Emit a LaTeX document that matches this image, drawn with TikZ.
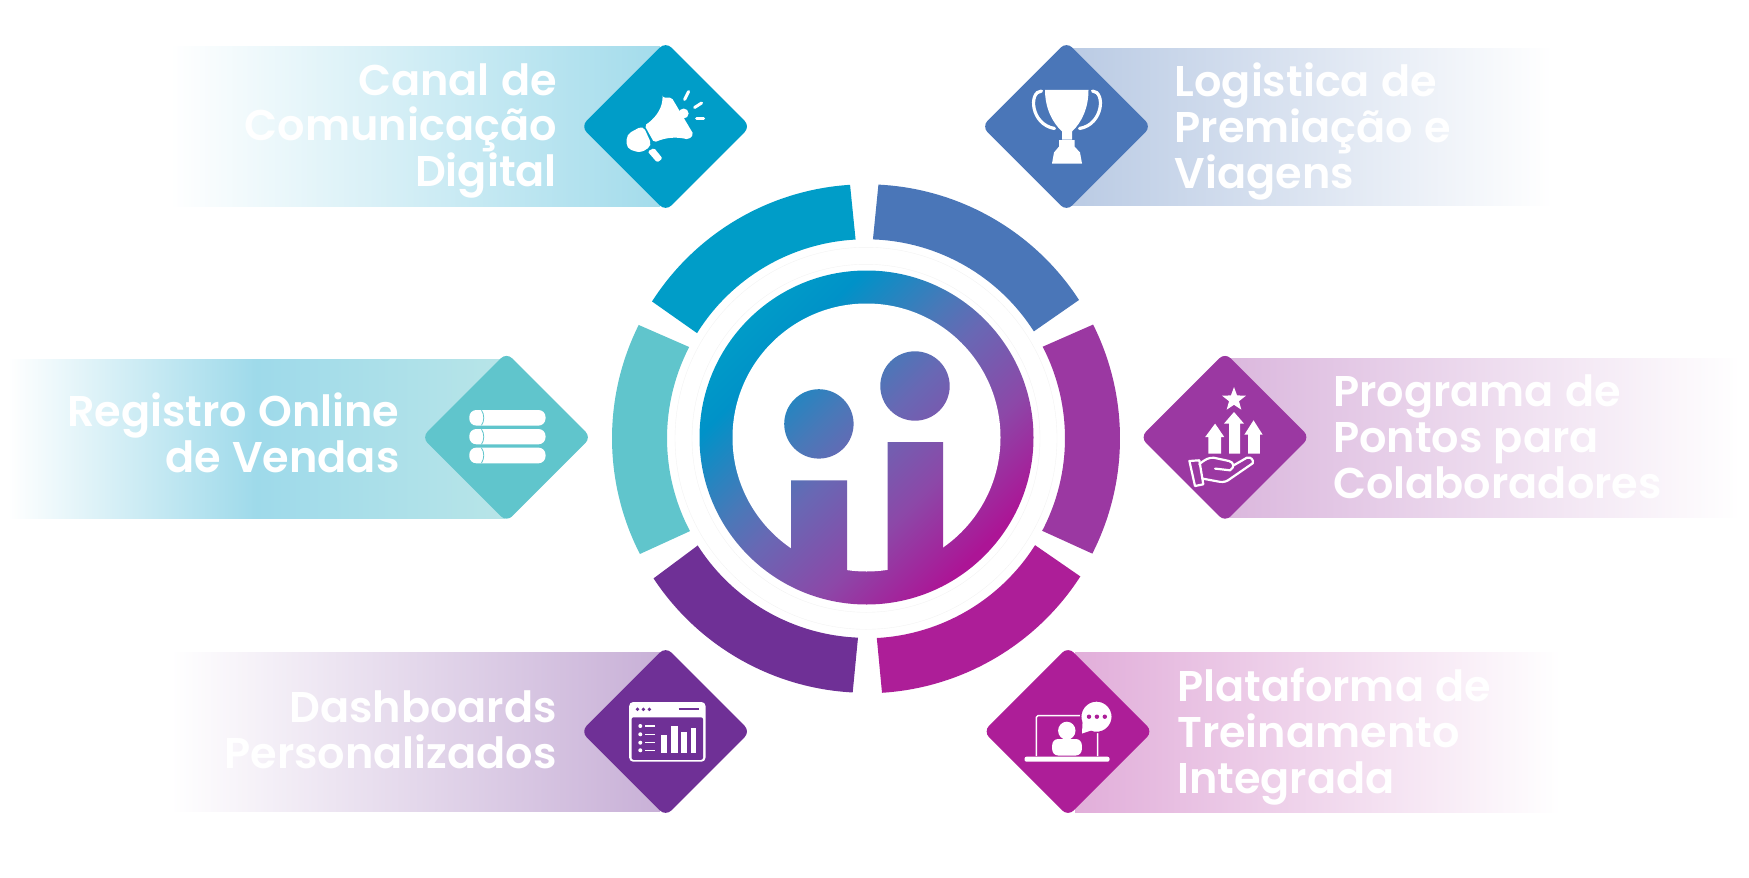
\documentclass[tikz,border=0pt]{standalone}
\usepackage{fontspec}
\usetikzlibrary{shapes.geometric}
\newfontfamily\labelfont{Poppins}[UprightFont=* SemiBold,WordSpace=1.1]
\definecolor{segcyan}{HTML}{009DC8}
\definecolor{segblue}{HTML}{4A76B8}
\definecolor{segteal}{HTML}{60C5CC}
\definecolor{segviolet}{HTML}{9B38A2}
\definecolor{segpurple}{HTML}{6F3096}
\definecolor{segmagenta}{HTML}{AD1E98}
\definecolor{logoa}{HTML}{00A0C8}
\definecolor{logob}{HTML}{0092C8}
\definecolor{logoc}{HTML}{4A78B8}
\definecolor{logod}{HTML}{6868B4}
\definecolor{logoe}{HTML}{8C48A8}
\definecolor{logof}{HTML}{AC1596}
\pgfdeclarehorizontalshading{logoshade}{100bp}{color(0bp)=(logoa); color(23bp)=(logoa); color(33bp)=(logob); color(44.3bp)=(logoc); color(50bp)=(logod); color(61.3bp)=(logoe); color(72.6bp)=(logof); color(100bp)=(logof)}
\tikzset{
  diabox/.style={diamond,minimum size=169.5pt,inner sep=0pt,rounded corners=8pt,fill=#1},
  txtleft/.style={font=\labelfont\fontsize{43}{45.8}\selectfont,text=white,align=right,anchor=base east,inner sep=0pt},
  txtright/.style={font=\labelfont\fontsize{43}{45.8}\selectfont,text=white,align=left,anchor=base west,inner sep=0pt},
  fadeL/.style={left color=white,right color=#1},
  fadeR/.style={left color=#1,right color=white},
  ray/.style={draw=white,line width=3pt,line cap=round},
}
\begin{document}
\begin{tikzpicture}[x=1pt,y=-1pt]
\useasboundingbox (0,0) rectangle (1749,878);

% banners
\shade[fadeL=segcyan!36] (170,46) rectangle (660,206);
\shade[fadeR=segblue!38] (1070,48) rectangle (1553,205);
\shade[left color=white,right color=segteal!45,middle color=segcyan!38] (8,359) rectangle (505,518);
\shade[fadeR=segviolet!36] (1225,358) rectangle (1740,517);
\shade[fadeL=segpurple!38] (170,652) rectangle (660,811);
\shade[fadeR=segmagenta!36] (1075,652) rectangle (1560,812);

% diamonds
\node[diabox=segcyan] (diaCanal) at (665.6,126.5) {};
\node[diabox=segblue] (diaPremio) at (1066.5,126.5) {};
\node[diabox=segteal] (diaRegistro) at (506.5,437.3) {};
\node[diabox=segviolet] (diaPontos) at (1225,437.3) {};
\node[diabox=segpurple] (diaDash) at (665.6,731.5) {};
\node[diabox=segmagenta] (diaTreino) at (1068,731.5) {};

% labels
\node[txtleft] (txtCanal) at (557,186.7) {Canal de\\Comunicação\\Digital};
\node[txtright] (txtPremio) at (1174.5,188) {Logistica de\\Premiação e\\Viagens};
\node[txtleft] (txtRegistro) at (399.7,472.7) {Registro Online\\de Vendas};
\node[txtright] (txtPontos) at (1333,498) {Programa de\\Pontos para\\Colaboradores};
\node[txtleft] (txtDash) at (557,768) {Dashboards\\Personalizados};
\node[txtright] (txtTreino) at (1177,793) {Plataforma de\\Treinamento\\Integrada};

% outer ring
\begin{scope}[shift={(866,438.3)}]
\fill[segcyan] (-93.6:254) arc[start angle=-93.6,end angle=-147.4,radius=254] -- (-148.1:199) arc[start angle=-148.1,end angle=-93,radius=199] -- cycle;
\fill[segblue] (-87.2:254) arc[start angle=-87.2,end angle=-33,radius=254] -- (-32.5:199) arc[start angle=-32.5,end angle=-88,radius=199] -- cycle;
\fill[segviolet] (-26.6:254) arc[start angle=-26.6,end angle=27,radius=254] -- (27.7:199) arc[start angle=27.7,end angle=-27.4,radius=199] -- cycle;
\fill[segteal] (-153.5:254) arc[start angle=-153.5,end angle=-207.1,radius=254] -- (-207.8:199) arc[start angle=-207.8,end angle=-152.7,radius=199] -- cycle;
\fill[segpurple] (146.6:254.5) arc[start angle=146.6,end angle=93,radius=254.5] -- (92.3:199.5) arc[start angle=92.3,end angle=147.5,radius=199.5] -- cycle;
\fill[segmagenta] (32.8:255) arc[start angle=32.8,end angle=86.4,radius=255] -- (86.9:200) arc[start angle=86.9,end angle=32.3,radius=200] -- cycle;
\draw[black!5,line width=0.4pt] (0,0) circle[radius=174];
\draw[black!5,line width=0.4pt] (0,0) circle[radius=191];
\end{scope}

% logo
\begin{scope}
\clip (866.5,437.5) circle[radius=167];
\shade[shading=logoshade,shading angle=-45] (690,260) rectangle (1044,614);
\end{scope}
\fill[white] (866.5,437.5) circle[radius=134];
\begin{scope}
\clip (818.9,423.9) circle[radius=34.7] (915,386) circle[radius=34.7]
  (791.1,480.4) rectangle (847.1,575) (887.5,442) rectangle (943.2,575);
\shade[shading=logoshade,shading angle=-45] (690,260) rectangle (1044,614);
\end{scope}

% megaphone
\begin{scope}[shift={(diaCanal.center)}]
\fill[white,rounded corners=2pt] (-3,-29) -- (6,-29) -- (28,8) -- (23,13) .. controls (10,10) and (0,11) .. (-11.5,16) -- (-21,-1) .. controls (-12,-7) and (-4,-16) .. cycle;
\fill[white] (18,-13) circle[radius=5];
\fill[white,rounded corners=5pt] (-22.5,-1) -- (-39,8) -- (-39,22) -- (-25,26.5) -- (-13.5,19) -- cycle;
\fill[white,rounded corners=1.5pt] (-18,25) -- (-11.5,21.5) -- (-3,32) -- (-8.5,36) -- cycle;
\draw[ray] (23,-35) -- (19,-27);
\draw[ray] (36,-23.5) -- (29,-19);
\draw[ray] (31,-7.7) -- (38,-7.7);
\end{scope}

% trophy
\begin{scope}[shift={(diaPremio.center)}]
\fill[white] (-21.5,-36.7) -- (22,-36.7) .. controls (22,-18) and (15,-4) .. (5.5,5) -- (5.5,13) -- (-4.5,13) -- (-4.5,5) .. controls (-14,-4) and (-21.5,-18) .. cycle;
\fill[white] (-7.5,13.5) -- (8,13.5) -- (8,20) -- (13.5,26) -- (15.5,37) -- (-14.5,37) -- (-12.5,26) -- (-7.5,20) -- cycle;
\draw[white,line width=3.2pt,line cap=round] (-25,-35.5) .. controls (-38,-35) and (-36,-2) .. (-12,2);
\draw[white,line width=3.2pt,line cap=round] (26,-35.5) .. controls (39,-35) and (37,-2) .. (13,2);
\end{scope}

% stacked list
\begin{scope}[shift={(diaRegistro.center)}]
\fill[white,rounded corners=7pt] (-37.2,-27.3) rectangle (39,-11.7);
\fill[white,rounded corners=7pt] (-37.2,-8.3) rectangle (39,7);
\fill[white,rounded corners=7pt] (-37.2,10.3) rectangle (39,26);
\draw[segteal,line width=0.8pt] (-25,-27) .. controls (-22,-23) and (-22,-16) .. (-25,-12);
\draw[segteal,line width=0.8pt] (-25,-8) .. controls (-22,-4) and (-22,3) .. (-25,7);
\draw[segteal,line width=0.8pt] (-25,10.6) .. controls (-22,14.6) and (-22,21.6) .. (-25,25.6);
\end{scope}

% points and hand
\begin{scope}[shift={(diaPontos.center)}]
\node[star,star points=5,star point ratio=2.4,fill=white,inner sep=0pt,minimum size=25pt] (starPts) at (9,-37.7) {};
\fill[white] (4,16.3) -- (4,-13.7) -- (-1,-13.7) -- (9,-25.3) -- (19,-13.7) -- (15,-13.7) -- (15,16.3) -- cycle;
\fill[white] (-16.6,16.3) -- (-16.6,-0.3) -- (-19.8,-0.3) -- (-9.9,-13.7) -- (-0.8,-0.3) -- (-3.9,-0.3) -- (-3.9,16.3) -- cycle;
\fill[white] (23,16.3) -- (23,-2.7) -- (19.4,-2.7) -- (28.5,-17) -- (37.6,-2.7) -- (34.8,-2.7) -- (34.8,16.3) -- cycle;
\draw[white,line width=2.2pt,line join=round] (-35.6,23.7) -- (-25.7,23) -- (-21.7,47) -- (-30,48.7) -- cycle;
\draw[white,line width=2.2pt,line join=round,line cap=round] (-25.7,27) .. controls (-20,22) and (-16,20) .. (-11,20.5) -- (4,23.7) .. controls (9,25) and (10,30) .. (5,33) -- (-9.9,31.3);
\draw[white,line width=2.2pt,line join=round,line cap=round] (8.7,28) -- (21.7,20.5) .. controls (26,19) and (29,23) .. (27.7,26) -- (3,43) .. controls (0,45) and (-4,45) .. (-8,44) -- (-22.5,41.3);
\end{scope}

% dashboard window
\begin{scope}[shift={(diaDash.center)}]
\fill[white,rounded corners=4pt] (-36.4,-29.5) rectangle (39.9,30.2);
\fill[segpurple,rounded corners=2pt] (-34,-14.2) rectangle (37.4,28.3);
\fill[segpurple] (-28.1,-22.2) circle[radius=1.9] (-22.2,-22.2) circle[radius=1.9] (-16.2,-22.2) circle[radius=1.9];
\draw[segpurple,line width=1.8pt] (13,-22.2) -- (33.2,-22.2);
\fill[white] (-25.3,-5.5) circle[radius=2] (-25.3,2.8) circle[radius=2] (-25.3,11.2) circle[radius=2] (-25.3,18.8) circle[radius=2];
\draw[white,line width=1.3pt] (-20.6,-5.5) -- (-11,-5.5) (-20.6,2.8) -- (-11,2.8) (-20.6,11.2) -- (-11,11.2) (-20.6,18.8) -- (-11,18.8);
\fill[white] (-4.3,3.5) rectangle (1.6,21.2);
\fill[white] (5.5,-5.8) rectangle (11.9,21.2);
\fill[white] (15.4,0.8) rectangle (21.3,21.2);
\fill[white] (24.9,-3.2) rectangle (30.8,21.2);
\end{scope}

% training screen
\begin{scope}[shift={(diaTreino.center)}]
\draw[white,line width=1.5pt,rounded corners=1.5pt] (-31.6,24.5) -- (-31.6,-15.8) -- (29.7,-15.8) -- (29.7,24.5);
\fill[white,rounded corners=2pt] (-43.5,25.2) rectangle (41.5,30.2);
\fill[white] (-1.2,-0.8) ellipse[x radius=8.7,y radius=9];
\fill[white,rounded corners=6pt] (-15.8,24) -- (-15.8,7.5) -- (13.8,7.5) -- (13.8,24) -- cycle;
\fill[white,draw=segmagenta,line width=1.5pt] (28.5,-14.8) circle[radius=15.8];
\fill[white] (14,2) -- (14.6,-10) -- (23,-1) -- cycle;
\fill[segmagenta] (21,-14.8) circle[radius=2.2] (28.9,-14.8) circle[radius=2.2] (36.8,-14.8) circle[radius=2.2];
\end{scope}
\end{tikzpicture}
\end{document}
